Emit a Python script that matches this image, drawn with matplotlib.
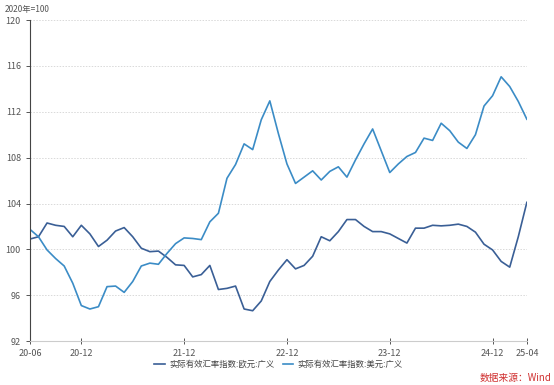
import matplotlib.pyplot as plt
import numpy as np

plt.rcParams['font.family'] = ['Noto Sans CJK SC', 'DejaVu Sans']

# monthly, 2020-06 .. 2025-04
eur = [100.9, 101.1, 102.3, 102.1, 102.0, 101.1, 102.1, 101.35, 100.25, 100.8,
       101.6, 101.9, 101.1, 100.1, 99.8, 99.85, 99.3, 98.65, 98.6, 97.6,
       97.8, 98.6, 96.5, 96.6, 96.8, 94.8, 94.65, 95.5, 97.2, 98.2,
       99.1, 98.3, 98.6, 99.4, 101.1, 100.75, 101.55, 102.6, 102.6, 102.0,
       101.55, 101.55, 101.35, 100.95, 100.55, 101.85, 101.85, 102.1, 102.05, 102.1,
       102.2, 102.0, 101.5, 100.45, 99.95, 98.95, 98.45, 101.1, 104.1]
usd = [101.75, 101.1, 99.95, 99.2, 98.55, 97.05, 95.1, 94.8, 95.0, 96.75,
       96.8, 96.25, 97.2, 98.55, 98.8, 98.7, 99.65, 100.5, 101.0, 100.95,
       100.85, 102.4, 103.15, 106.2, 107.4, 109.2, 108.7, 111.3, 112.95, 110.1,
       107.45, 105.75, 106.3, 106.85, 106.05, 106.8, 107.2, 106.3, 107.8, 109.2,
       110.5, 108.6, 106.7, 107.45, 108.1, 108.45, 109.7, 109.5, 111.0, 110.35,
       109.35, 108.8, 110.0, 112.5, 113.4, 115.05, 114.2, 112.9, 111.35]
tick_pos = [0, 6, 18, 30, 42, 54, 58]
tick_lab = ['20-06', '20-12', '21-12', '22-12', '23-12', '24-12', '25-04']

x = np.arange(len(eur))

fig = plt.figure(figsize=(5.54, 3.85), dpi=100)
ax = fig.add_axes([0.054, 0.114, 0.897, 0.834])

ax.plot(x, eur, color='#3a5f96', lw=1.2, label='实际有效汇率指数:欧元:广义')
ax.plot(x, usd, color='#3b8cc6', lw=1.2, label='实际有效汇率指数:美元:广义')

ax.set_xlim(0, len(eur) - 1)
ax.set_ylim(92, 120)
ax.set_yticks(np.arange(92, 121, 4))
ax.set_xticks(tick_pos)
ax.set_xticklabels(tick_lab)
ax.grid(axis='y', color='#d9d9d9', ls=(0, (1.5, 1.5)), lw=0.7)
for s in ['top', 'right']:
    ax.spines[s].set_visible(False)
ax.spines['left'].set_color('#444444')
ax.spines['bottom'].set_color('#cccccc')
ax.tick_params(axis='y', labelsize=6.5, colors='#555555', length=3, width=0.7)
ax.tick_params(axis='x', labelsize=6.5, colors='#555555', length=4, width=0.7, direction='inout')

fig.text(0.008, 0.968, '2020年=100', fontsize=6, color='#555555')
ax.legend(loc='upper center', bbox_to_anchor=(0.5, -0.035), ncol=2, frameon=False,
          fontsize=6, handlelength=1.3, handletextpad=0.5, columnspacing=1.0,
          labelcolor='#444444')
fig.text(0.995, 0.01, '数据来源：Wind', fontsize=7, color='#d03030', ha='right')

fig.savefig('out.png', dpi=100)
